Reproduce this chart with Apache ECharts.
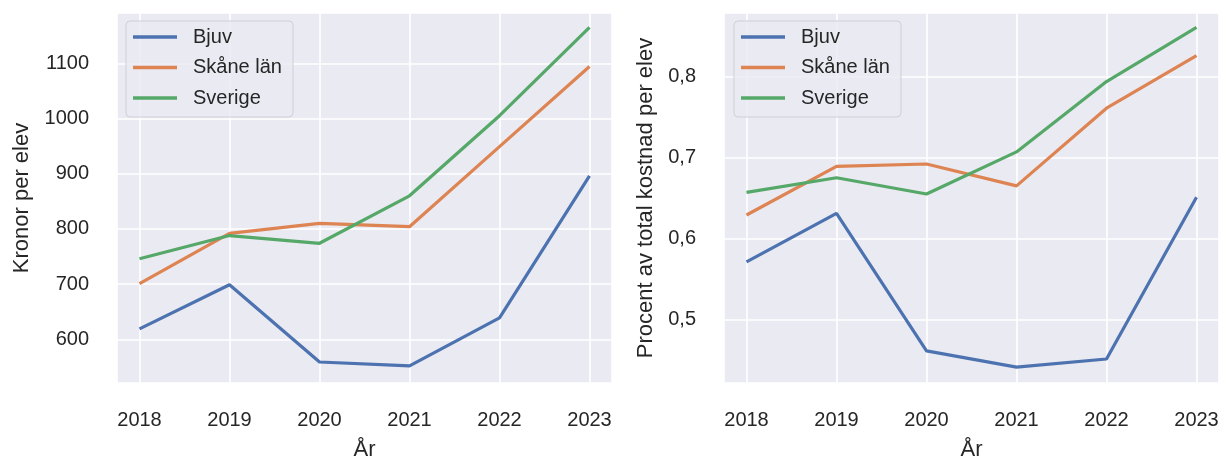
<!DOCTYPE html>
<html>
<head>
<meta charset="utf-8">
<script src="https://cdn.jsdelivr.net/npm/echarts@6/dist/echarts.min.js"></script>
<style>
  html, body { margin: 0; padding: 0; background: #fff; }
  #chart { width: 1221px; height: 459px; }
</style>
</head>
<body>
<div id="chart"></div>
<script>
// år och värden
const years = [2018, 2019, 2020, 2021, 2022, 2023]
const seriesNames = ['Bjuv', 'Skåne län', 'Sverige']

// vänster: kronor per elev
const kronorBjuv = [619, 699, 559, 552, 639, 896]
const kronorSkane = [701, 792, 810, 804, 949, 1094]
const kronorSverige = [746, 788, 774, 860, 1005, 1165]

// höger: procent av total kostnad per elev
const procentBjuv = [0.571, 0.631, 0.461, 0.441, 0.451, 0.651]
const procentSkane = [0.629, 0.689, 0.692, 0.665, 0.761, 0.826]
const procentSverige = [0.657, 0.675, 0.655, 0.707, 0.794, 0.861]

const colors = ['#4C72B0', '#DD8452', '#55A868']
const font = 'Liberation Sans, Arial, sans-serif'
const textColor = '#262626'

function pairs(vals) {
  return years.map((y, i) => [y, vals[i]])
}

function xAxis(gridIndex) {
  return {
    type: 'value',
    gridIndex: gridIndex,
    min: 2017.75,
    max: 2023.25,
    name: 'År',
    nameLocation: 'middle',
    nameGap: 56,
    nameTextStyle: { fontFamily: font, fontSize: 22, color: textColor },
    axisLine: { show: false },
    axisTick: { show: false },
    axisLabel: {
      margin: 27,
      fontFamily: font,
      fontSize: 20,
      color: textColor,
      showMinLabel: false,
      showMaxLabel: false,
      formatter: v => (Number.isInteger(v) ? String(v) : '')
    },
    splitLine: { lineStyle: { color: '#ffffff', width: 1.6 } }
  }
}

function yAxis(gridIndex, min, max, name, gap, fmt) {
  return {
    type: 'value',
    gridIndex: gridIndex,
    min: min,
    max: max,
    name: name,
    nameLocation: 'middle',
    nameGap: gap,
    nameTextStyle: { fontFamily: font, fontSize: 22, color: textColor },
    axisLine: { show: false },
    axisTick: { show: false },
    axisLabel: {
      margin: 28,
      fontFamily: font,
      fontSize: 20,
      color: textColor,
      showMinLabel: false,
      showMaxLabel: false,
      formatter: fmt
    },
    splitLine: { lineStyle: { color: '#ffffff', width: 1.6 } }
  }
}

function line(name, vals, idx, axisIndex) {
  return {
    type: 'line',
    name: name,
    xAxisIndex: axisIndex,
    yAxisIndex: axisIndex,
    data: pairs(vals),
    showSymbol: false,
    symbol: 'none',
    lineStyle: { color: colors[idx], width: 3.2 },
    itemStyle: { color: colors[idx] },
    animation: false
  }
}

function legend(left) {
  return {
    orient: 'vertical',
    left: left,
    top: 21,
    data: seriesNames,
    icon: 'rect',
    itemWidth: 44,
    itemHeight: 3.5,
    itemGap: 10.5,
    padding: [6, 11, 9, 7],
    backgroundColor: 'rgba(234,234,242,0.8)',
    borderColor: '#cfcfd6',
    borderWidth: 1,
    borderRadius: 4,
    selectedMode: false,
    textStyle: { fontFamily: font, fontSize: 20, color: textColor, padding: [0, 0, 0, 11] }
  }
}

const myChart = echarts.init(document.getElementById('chart'), null, { renderer: 'canvas' })
myChart.setOption({
  backgroundColor: '#ffffff',
  animation: false,
  legend: [legend(126), legend(734)],
  grid: [
    { left: 117, top: 13, width: 495, height: 370, show: true, backgroundColor: '#EAEAF2', borderWidth: 0, outerBoundsMode: 'none' },
    { left: 724, top: 13, width: 495, height: 370, show: true, backgroundColor: '#EAEAF2', borderWidth: 0, outerBoundsMode: 'none' }
  ],
  xAxis: [xAxis(0), xAxis(1)],
  yAxis: [
    yAxis(0, 521, 1191, 'Kronor per elev', 84, v => (v % 100 === 0 ? String(v) : '')),
    yAxis(1, 0.4213, 0.8787, 'Procent av total kostnad per elev', 67,
      v => v.toFixed(1).replace('.', ','))
  ],
  series: [
    line('Bjuv', kronorBjuv, 0, 0),
    line('Skåne län', kronorSkane, 1, 0),
    line('Sverige', kronorSverige, 2, 0),
    line('Bjuv', procentBjuv, 0, 1),
    line('Skåne län', procentSkane, 1, 1),
    line('Sverige', procentSverige, 2, 1)
  ]
})
</script>
</body>
</html>
